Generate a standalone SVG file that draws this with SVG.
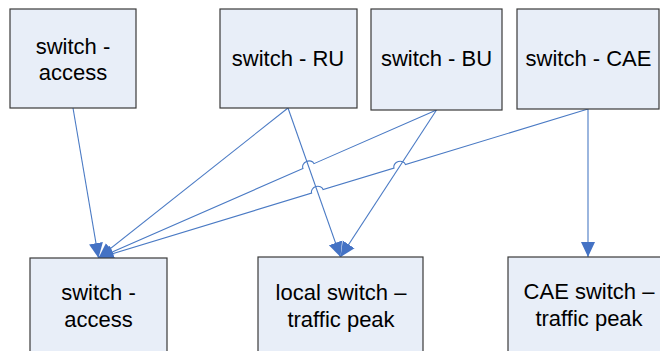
<svg xmlns="http://www.w3.org/2000/svg" width="660" height="351" viewBox="0 0 660 351">
<defs>
<style>
.box{fill:#E8EEF8;stroke:#3a3a3a;stroke-width:1.2}
.t{font-family:"Liberation Sans",Arial,sans-serif;font-size:22px;fill:#000;text-anchor:middle}
.c{fill:none;stroke:#4A7AC4;stroke-width:1.1;marker-end:url(#ah)}
</style>
<marker id="ah" markerUnits="userSpaceOnUse" markerWidth="16" markerHeight="16" viewBox="0 0 16 16" refX="15" refY="8" orient="auto">
<path d="M0,1 L15,8 L0,15 z" fill="#4472C4"/>
</marker>
</defs>
<rect width="660" height="351" fill="#fff"/>
<g id="connectors">
<path class="c" d="M73,108 L98.5,258"/>
<path class="c" d="M288,108 L98.5,258"/>
<path class="c" d="M288,108 L340.5,257"/>
<path class="c" d="M436.5,110 L340.5,257"/>
<path class="c" d="M436.5,110 L313.97,163.65 A6,5 -23.65 0 0 302.97,168.47 L98.5,258"/>
<path class="c" d="M588,109 L405.48,164.56 A6,5 -16.93 0 0 394.00,168.06 L323.09,189.63 A6,5 -16.93 0 0 311.61,193.13 L98.5,258"/>
<path class="c" d="M588,109 L588,257"/>
</g>
<g id="n-access-top">
<rect class="box" x="10" y="9" width="126" height="99"/>
<text class="t" x="73" y="54">switch -</text>
<text class="t" x="73" y="80">access</text>
</g>
<g id="n-ru">
<rect class="box" x="220" y="9" width="137" height="99"/>
<text class="t" x="288" y="66">switch - RU</text>
</g>
<g id="n-bu">
<rect class="box" x="371" y="9" width="131" height="101"/>
<text class="t" x="436.5" y="66">switch - BU</text>
</g>
<g id="n-cae">
<rect class="box" x="517" y="9" width="142" height="100"/>
<text class="t" x="588.5" y="66">switch - CAE</text>
</g>
<g id="n-access-bottom">
<rect class="box" x="30" y="258" width="137" height="110"/>
<text class="t" x="98.5" y="300">switch -</text>
<text class="t" x="98.5" y="327">access</text>
</g>
<g id="n-local">
<rect class="box" x="258" y="257" width="165" height="110"/>
<text class="t" x="341" y="300">local switch –</text>
<text class="t" x="341" y="327">traffic peak</text>
</g>
<g id="n-cae-peak">
<rect class="box" x="508" y="257" width="165" height="110"/>
<text class="t" x="589" y="299">CAE switch –</text>
<text class="t" x="589" y="326">traffic peak</text>
</g>
</svg>
